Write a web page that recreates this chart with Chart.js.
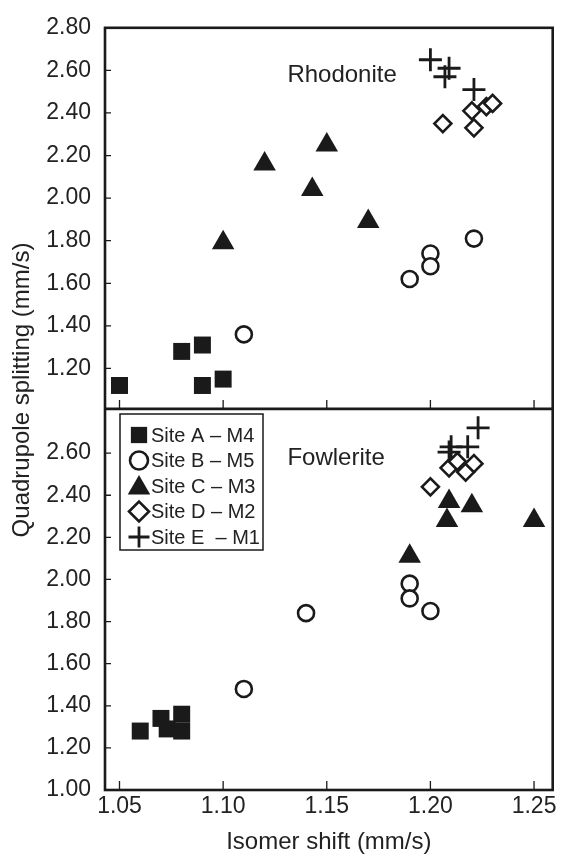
<!DOCTYPE html>
<html lang="en">
<head>
<meta charset="utf-8">
<title>Isomer shift vs quadrupole splitting</title>
<script src="https://cdn.jsdelivr.net/npm/chart.js@4/dist/chart.umd.min.js"></script>
<style>
  html, body { margin: 0; padding: 0; background: #fff; }
  #grafica { display: block; }
</style>
</head>
<body>
<canvas id="grafica" width="567" height="857"></canvas>
<script>
// sitios (leyenda)
const sitios = ["Site A – M4", "Site B – M5", "Site C – M3", "Site D – M2", "Site E  – M1"];

// Rodonita (panel de arriba)
const rodAx = [1.05, 1.08, 1.09, 1.09, 1.10];
const rodAy = [1.12, 1.28, 1.31, 1.12, 1.15];
const rodBx = [1.11, 1.19, 1.20, 1.20, 1.221];
const rodBy = [1.36, 1.62, 1.74, 1.68, 1.81];
const rodCx = [1.10, 1.12, 1.143, 1.15, 1.17];
const rodCy = [1.79, 2.16, 2.04, 2.25, 1.89];
const rodDx = [1.206, 1.220, 1.221, 1.227, 1.230];
const rodDy = [2.35, 2.41, 2.33, 2.43, 2.445];
const rodEx = [1.20, 1.207, 1.209, 1.221];
const rodEy = [2.65, 2.57, 2.61, 2.51];

// Fowlerita (panel de abajo)
const fowAx = [1.06, 1.07, 1.073, 1.08, 1.08];
const fowAy = [1.28, 1.34, 1.29, 1.36, 1.28];
const fowBx = [1.11, 1.14, 1.19, 1.19, 1.20];
const fowBy = [1.48, 1.84, 1.98, 1.91, 1.85];
const fowCx = [1.19, 1.208, 1.209, 1.22, 1.25];
const fowCy = [2.11, 2.28, 2.37, 2.35, 2.28];
const fowDx = [1.20, 1.209, 1.213, 1.217, 1.221];
const fowDy = [2.44, 2.53, 2.56, 2.51, 2.55];
const fowEx = [1.21, 1.218, 1.209, 1.223];
const fowEy = [2.63, 2.63, 2.605, 2.72];

// marcas de los ejes
const ticksX = [1.05, 1.10, 1.15, 1.20, 1.25];
const ticksRod = [1.20, 1.40, 1.60, 1.80, 2.00, 2.20, 2.40, 2.60, 2.80];
const ticksFow = [1.00, 1.20, 1.40, 1.60, 1.80, 2.00, 2.20, 2.40, 2.60];

const NEGRO = "#1a1a1a";
const TEXTO = "#222";
const FUENTE = "'Liberation Sans', Arial, Helvetica, sans-serif";

const estilos = [
  { pointStyle: "rect", radius: 12, fill: NEGRO, borderWidth: 0, leyenda: 11.5 },
  { pointStyle: "circle", radius: 8, fill: "#fff", borderWidth: 2.6, leyenda: 9 },
  { pointStyle: "triangle", radius: 13, fill: NEGRO, borderWidth: 0, leyenda: 13 },
  { pointStyle: "rectRot", radius: 8.5, fill: "#fff", borderWidth: 2.6, leyenda: 10 },
  { pointStyle: "cross", radius: 11.5, fill: NEGRO, borderWidth: 2.8, leyenda: 10.5 }
];

function juntar(xs, ys) {
  return xs.map((x, i) => ({ x: x, y: ys[i] }));
}

const rodonita = [juntar(rodAx, rodAy), juntar(rodBx, rodBy), juntar(rodCx, rodCy), juntar(rodDx, rodDy), juntar(rodEx, rodEy)];
const fowlerita = [juntar(fowAx, fowAy), juntar(fowBx, fowBy), juntar(fowCx, fowCy), juntar(fowDx, fowDy), juntar(fowEx, fowEy)];

function serie(nombre, datos, est, eje) {
  return {
    label: nombre,
    data: datos,
    yAxisID: eje,
    pointStyle: est.pointStyle,
    pointRadius: est.radius,
    pointHoverRadius: est.radius,
    pointBackgroundColor: est.fill,
    pointBorderColor: NEGRO,
    pointBorderWidth: est.borderWidth,
    showLine: false,
    clip: false
  };
}

const series = [];
sitios.forEach((s, i) => {
  series.push(serie(s, rodonita[i], estilos[i], "ySup"));
  series.push(serie(s, fowlerita[i], estilos[i], "yInf"));
});

function fijarTicks(valores) {
  return scale => { scale.ticks = valores.map(v => ({ value: v })); };
}

// marco, marcas hacia dentro, textos y leyenda
const marco = {
  id: "marco",
  afterDraw(chart) {
    const ctx = chart.ctx;
    const a = chart.chartArea;
    const x = chart.scales.x;
    const paneles = [chart.scales.ySup, chart.scales.yInf];

    ctx.save();
    ctx.strokeStyle = NEGRO;
    ctx.lineCap = "butt";

    // marcas
    ctx.lineWidth = 1.3;
    ctx.beginPath();
    paneles.forEach(p => {
      p.ticks.forEach(t => {
        const py = p.getPixelForValue(t.value);
        if (py > p.bottom - 2 || py < p.top + 2) return;
        ctx.moveTo(a.left, py);
        ctx.lineTo(a.left + 6, py);
      });
      x.ticks.forEach(t => {
        const px = x.getPixelForValue(t.value);
        ctx.moveTo(px, p.bottom);
        ctx.lineTo(px, p.bottom - 9);
      });
    });
    ctx.stroke();

    // marco y división
    ctx.lineWidth = 2.6;
    ctx.strokeRect(a.left, a.top, a.right - a.left, a.bottom - a.top);
    ctx.beginPath();
    ctx.moveTo(a.left, paneles[0].bottom);
    ctx.lineTo(a.right, paneles[0].bottom);
    ctx.stroke();

    // nombres de los minerales
    ctx.fillStyle = TEXTO;
    ctx.font = "24px " + FUENTE;
    ctx.textAlign = "left";
    ctx.textBaseline = "middle";
    ctx.fillText("Rhodonite", x.getPixelForValue(1.131), paneles[0].getPixelForValue(2.575));
    ctx.fillText("Fowlerite", x.getPixelForValue(1.131), paneles[1].getPixelForValue(2.575));

    // título del eje y
    ctx.save();
    ctx.translate(22, 390);
    ctx.rotate(-Math.PI / 2);
    ctx.textAlign = "center";
    ctx.fillText("Quadrupole splitting (mm/s)", 0, 0);
    ctx.restore();

    // leyenda
    ctx.lineWidth = 1.5;
    ctx.strokeRect(120, 414, 143, 136);
    ctx.font = "20px " + FUENTE;
    sitios.forEach((s, i) => {
      const est = estilos[i];
      const cy = 435 + i * 25.5;
      ctx.fillStyle = est.fill;
      ctx.strokeStyle = NEGRO;
      ctx.lineWidth = est.borderWidth;
      Chart.helpers.drawPoint(ctx, {
        pointStyle: est.pointStyle,
        radius: est.leyenda,
        rotation: 0,
        borderWidth: est.borderWidth
      }, 139, est.pointStyle === "triangle" ? cy + 2 : cy);
      ctx.fillStyle = TEXTO;
      ctx.fillText(s, 151, cy + 1);
    });
    ctx.restore();
  }
};

const ticksComunes = {
  autoSkip: false,
  color: TEXTO,
  font: { family: FUENTE, size: 23 },
  callback: v => v.toFixed(2)
};

new Chart(document.getElementById("grafica"), {
  type: "scatter",
  data: { datasets: series },
  options: {
    responsive: false,
    animation: false,
    events: [],
    layout: { padding: { top: 24, right: 10, left: 0, bottom: 0 } },
    plugins: {
      legend: { display: false },
      tooltip: { enabled: false }
    },
    scales: {
      x: {
        type: "linear",
        min: 1.043,
        max: 1.259,
        afterBuildTicks: fijarTicks(ticksX),
        afterFit: s => { s.height = 67; },
        grid: { display: false, drawTicks: false },
        border: { display: false },
        ticks: Object.assign({}, ticksComunes, { padding: 3, maxRotation: 0 }),
        title: {
          display: true,
          text: "Isomer shift (mm/s)",
          color: TEXTO,
          font: { family: FUENTE, size: 24 },
          padding: { top: 0, bottom: 0 }
        }
      },
      yInf: {
        type: "linear",
        position: "left",
        stack: "paneles",
        stackWeight: 1,
        min: 1.0,
        max: 2.81,
        afterBuildTicks: fijarTicks(ticksFow),
        afterFit: s => { s.width = 105; },
        grid: { display: false, drawTicks: false },
        border: { display: false },
        ticks: Object.assign({}, ticksComunes, { padding: 14 })
      },
      ySup: {
        type: "linear",
        position: "left",
        stack: "paneles",
        stackWeight: 1,
        min: 1.01,
        max: 2.80,
        afterBuildTicks: fijarTicks(ticksRod),
        afterFit: s => { s.width = 105; },
        grid: { display: false, drawTicks: false },
        border: { display: false },
        ticks: Object.assign({}, ticksComunes, { padding: 14 })
      }
    }
  },
  plugins: [marco]
});
</script>
</body>
</html>
